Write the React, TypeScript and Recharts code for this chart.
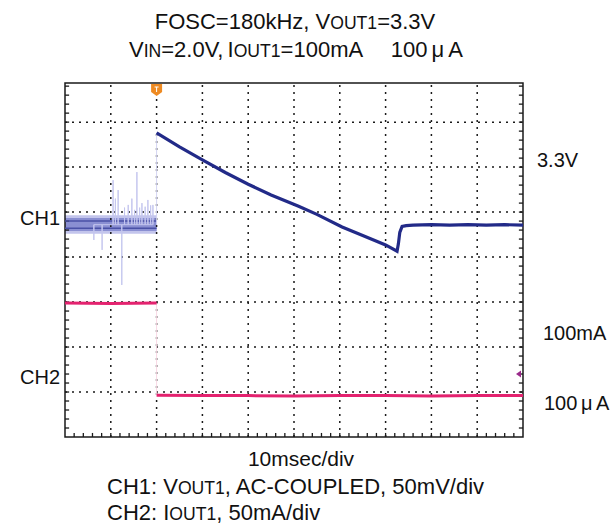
import React from "react";
import {
  ComposedChart,
  Line,
  XAxis,
  YAxis,
  ReferenceLine,
  ReferenceArea,
  ReferenceDot,
} from "recharts";

// scope screen in divisions: 10 across, ~7.87 up (top row is cut a little)
const X_MAX = 10;
const Y_MAX = 7.87;
const GRID_X = [1, 2, 3, 4, 5, 6, 7, 8, 9];
const GRID_Y = [1, 2, 3, 4, 5, 6, 7];
const MINOR_X = Array.from({ length: 49 }, (_, i) => +((i + 1) * 0.2).toFixed(1));
const MINOR_Y = Array.from({ length: 39 }, (_, i) => +((i + 1) * 0.2).toFixed(1));
const TICK_LEN_X = 0.09; // in divisions
const TICK_LEN_Y = 0.09;

const TRIG_T = 2.0;
const CH2_GND = 1.4;

// CH1 before the trigger: a noisy band with spikes
const CH1_BAND_OUTER = [4.52, 4.93];
const CH1_BAND_INNER = [4.58, 4.87];
const CH1_BAND_LINES = [4.64, 4.8];
const CH1_BASE = 4.72;
const SPIKE_T = [0.63, 0.81, 1.05, 1.1, 1.16, 1.24, 1.3, 1.38, 1.46, 1.52, 1.57, 1.63, 1.68, 1.75, 1.81, 1.87, 1.92];
const SPIKE_V = [4.38, 4.16, 5.71, 5.3, 5.49, 3.38, 5.1, 5.16, 5.3, 5.05, 5.89, 5.1, 5.2, 5.12, 5.27, 5.15, 5.16];

// CH1 after the trigger
const CH1_T = [2.0, 2.5, 3.0, 3.5, 4.0, 4.5, 5.1, 5.5, 6.05, 6.5, 7.0, 7.25, 7.28, 7.31, 7.36, 7.45, 7.6, 8.0, 8.4, 8.8, 9.2, 9.6, 10.0];
const CH1_V = [6.76, 6.45, 6.16, 5.88, 5.62, 5.38, 5.13, 4.95, 4.67, 4.48, 4.27, 4.13, 4.3, 4.55, 4.68, 4.7, 4.71, 4.72, 4.71, 4.72, 4.71, 4.72, 4.71];

// CH2 load current
const CH2_PRE_T = [0, 1.0, 2.0];
const CH2_PRE_V = [2.98, 2.97, 2.98];
const CH2_POST_T = [2.0, 3.0, 4.0, 5.0, 6.0, 7.0, 8.0, 9.0, 10.0];
const CH2_POST_V = [0.93, 0.92, 0.92, 0.91, 0.92, 0.92, 0.91, 0.92, 0.92];

const zip = (t: number[], v: number[]) => t.map((x, i) => ({ x, y: v[i] }));

const spikeData = SPIKE_T.flatMap((x, i) => [
  { x, y: CH1_BASE },
  { x, y: SPIKE_V[i] },
  { x, y: CH1_BASE },
]);

const ch1Data = zip(CH1_T, CH1_V);
const ch1Jump = [
  { x: TRIG_T, y: CH1_BASE },
  { x: TRIG_T, y: CH1_V[0] },
];
const ch2Pre = zip(CH2_PRE_T, CH2_PRE_V);
const ch2Post = zip(CH2_POST_T, CH2_POST_V);
const ch2Jump = [
  { x: TRIG_T, y: CH2_PRE_V[CH2_PRE_V.length - 1] },
  { x: TRIG_T, y: CH2_POST_V[0] },
];

const NAVY = "#222a88";
const PINK = "#e4226f";
const INK = "#1a1a1a";
const FONT = '"Liberation Sans", Arial, sans-serif';

const TrigMark = (p: any) => (
  <g>
    <path d={`M${p.cx - 5.5},${p.cy + 1} h11 v8 l-5.5,4 l-5.5,-4 z`} fill="#ee8a22" />
    <path d={`M${p.cx - 2},${p.cy + 4} h4 M${p.cx},${p.cy + 4} v5`} stroke="#fff" strokeWidth={1} />
  </g>
);

const GndMark = (p: any) => (
  <path
    d={`M${p.cx - 7},${p.cy} L${p.cx - 2},${p.cy - 3.5} L${p.cx - 2},${p.cy + 3.5} Z`}
    fill="#9a2a8a"
  />
);

const Txt = ({ x, y, center, size = 20, ws = 0, children }: any) => (
  <div
    style={{
      position: "absolute",
      left: center ? x - 250 : x,
      top: y - size / 2,
      width: center ? 500 : undefined,
      textAlign: center ? "center" : "left",
      fontFamily: FONT,
      fontSize: size,
      lineHeight: `${size}px`,
      wordSpacing: ws,
      color: "#111",
      whiteSpace: "pre",
    }}
  >
    {children}
  </div>
);

const Sc = ({ children }: any) => <span style={{ fontSize: "0.8em" }}>{children}</span>;

export default function App() {
  const ax = { xAxisId: "b", yAxisId: "l" };
  return (
    <div style={{ position: "absolute", left: 0, top: 0, width: 613, height: 527, background: "#fff" }}>
      <ComposedChart width={613} height={527} margin={{ top: 83, right: 90, bottom: 90, left: 65 }}>
        <XAxis xAxisId="b" type="number" dataKey="x" domain={[0, X_MAX]} hide allowDataOverflow />
        <YAxis yAxisId="l" type="number" domain={[0, Y_MAX]} hide allowDataOverflow />

        {GRID_X.map((v) => (
          <ReferenceLine key={`gx${v}`} {...ax} x={v} stroke={INK} strokeWidth={1.5} strokeDasharray="2 5" />
        ))}
        {GRID_Y.map((v) => (
          <ReferenceLine key={`gy${v}`} {...ax} y={v} stroke={INK} strokeWidth={1.5} strokeDasharray="2 5" />
        ))}

        {/* minor ticks on the frame */}
        {MINOR_X.map((v) => (
          <ReferenceLine key={`tb${v}`} {...ax} segment={[{ x: v, y: 0 }, { x: v, y: TICK_LEN_Y }]} stroke={INK} strokeWidth={1.3} />
        ))}
        {MINOR_Y.map((v) => (
          <ReferenceLine key={`tl${v}`} {...ax} segment={[{ x: 0, y: v }, { x: TICK_LEN_X, y: v }]} stroke={INK} strokeWidth={1.3} />
        ))}
        {MINOR_Y.map((v) => (
          <ReferenceLine key={`tr${v}`} {...ax} segment={[{ x: X_MAX - TICK_LEN_X, y: v }, { x: X_MAX, y: v }]} stroke={INK} strokeWidth={1.3} />
        ))}

        <ReferenceArea {...ax} x1={0} x2={TRIG_T} y1={CH1_BAND_OUTER[0]} y2={CH1_BAND_OUTER[1]} fill="#c3c5ec" fillOpacity={1} stroke="none" />
        <ReferenceArea {...ax} x1={0} x2={TRIG_T} y1={CH1_BAND_INNER[0]} y2={CH1_BAND_INNER[1]} fill="#8a8fd2" fillOpacity={1} stroke="none" />
        {CH1_BAND_LINES.map((v) => (
          <ReferenceLine key={`bl${v}`} {...ax} segment={[{ x: 0, y: v }, { x: TRIG_T, y: v }]} stroke="#4a51a6" strokeWidth={1.5} />
        ))}

        <Line {...ax} data={spikeData} dataKey="y" type="linear" dot={false} stroke="#c4c6ee" strokeWidth={1} isAnimationActive={false} />
        <Line {...ax} data={ch1Jump} dataKey="y" type="linear" dot={false} stroke="#d3d4f2" strokeWidth={1} isAnimationActive={false} />
        <Line {...ax} data={ch2Jump} dataKey="y" type="linear" dot={false} stroke="#f8d8e4" strokeWidth={1} isAnimationActive={false} />
        <Line {...ax} data={ch1Data} dataKey="y" type="linear" dot={false} stroke={NAVY} strokeWidth={3.2} isAnimationActive={false} />
        <Line {...ax} data={ch2Pre} dataKey="y" type="linear" dot={false} stroke={PINK} strokeWidth={3} isAnimationActive={false} />
        <Line {...ax} data={ch2Post} dataKey="y" type="linear" dot={false} stroke={PINK} strokeWidth={3} isAnimationActive={false} />

        {/* screen frame */}
        <ReferenceArea {...ax} x1={0} x2={X_MAX} y1={0} y2={Y_MAX} fill="none" stroke={INK} strokeWidth={1.5} />

        <ReferenceDot {...ax} x={TRIG_T} y={Y_MAX} r={0} shape={TrigMark} />
        <ReferenceDot {...ax} x={X_MAX} y={CH2_GND} r={0} shape={GndMark} />
      </ComposedChart>

      <Txt x={295} y={22} size={22} center>
        FOSC=180kHz, V<Sc>OUT1</Sc>=3.3V
      </Txt>
      <Txt x={296} y={50} size={22} center ws={-2}>
        V<Sc>IN</Sc>=2.0V, I<Sc>OUT1</Sc>=100mA       100 μ A
      </Txt>
      <Txt x={20} y={218}>CH1</Txt>
      <Txt x={20} y={377}>CH2</Txt>
      <Txt x={537} y={160}>3.3V</Txt>
      <Txt x={543} y={333}>100mA</Txt>
      <Txt x={544} y={403} ws={-2}>
        100 μ A
      </Txt>
      <Txt x={301} y={458} size={21} center>
        10msec/div
      </Txt>
      <Txt x={107} y={487} size={22}>
        CH1: V<Sc>OUT1</Sc>, AC-COUPLED, 50mV/div
      </Txt>
      <Txt x={107} y={513} size={22}>
        CH2: I<Sc>OUT1</Sc>, 50mA/div
      </Txt>
    </div>
  );
}
